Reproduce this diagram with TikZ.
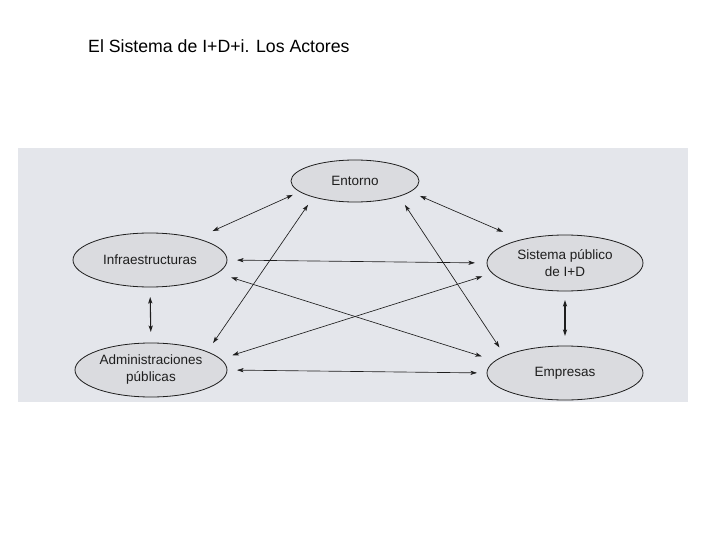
\documentclass[tikz,border=0pt]{standalone}
\usepackage{fontspec}
\setmainfont{Liberation Sans}
\usetikzlibrary{shapes.geometric,arrows.meta}
\definecolor{scanbg}{RGB}{228,230,235}
\definecolor{ellfill}{RGB}{218,219,223}
\definecolor{ink}{RGB}{30,30,30}
\begin{document}
\begin{tikzpicture}[x=1pt,y=-1pt,
  actor/.style={ellipse,draw=ink,line width=0.8pt,fill=ellfill,inner sep=0pt,outer sep=0pt,
    align=center,font=\fontsize{13.5}{17}\selectfont,text=ink},
  link/.style={draw=ink,line width=0.65pt,
    {Stealth[length=6.5pt,width=4.2pt,inset=1.5pt]}-{Stealth[length=6.5pt,width=4.2pt,inset=1.5pt]}},
  vlink/.style={link,line width=1.1pt}]
\useasboundingbox (0,0) rectangle (720,540);
\fill[scanbg] (18,148) rectangle (688,402);
\node[anchor=base west,font=\fontsize{17.7}{20}\selectfont,inner sep=0pt] (title) at (88,53) {El Sistema de I+D+i. Los Actores};
\node[actor,minimum width=128pt,minimum height=42pt] (ent) at (355,181) {Entorno};
\node[actor,minimum width=154pt,minimum height=54pt] (inf) at (150,260) {Infraestructuras};
\node[actor,minimum width=156pt,minimum height=56pt] (sis) at (565,263) {Sistema público\\de I+D};
\node[actor,minimum width=152pt,minimum height=54pt] (adm) at (151,370) {Administraciones\\públicas};
\node[actor,minimum width=156pt,minimum height=54pt] (emp) at (565,373) {Empresas};
\draw[link,shorten <=7.8pt,shorten >=17.9pt] (ent.191.1) -- (inf.25.4);
\draw[link,shorten <=9.5pt,shorten >=10.6pt] (ent.201.8) -- (adm.18.1);
\draw[link,shorten <=10.8pt,shorten >=20pt] (ent.349) -- (sis.152.8);
\draw[link,shorten <=10.5pt,shorten >=10pt] (ent.341.1) -- (emp.164.9);
\draw[link,shorten <=10pt,shorten >=12pt] (inf.east) -- (sis.west);
\draw[link,shorten <=14.5pt,shorten >=14.3pt] (inf.349.5) -- (emp.170.6);
\draw[link,shorten <=10.6pt,shorten >=12.5pt] (sis.188.6) -- (adm.9.3);
\draw[link,shorten <=10pt,shorten >=10pt] (adm.east) -- (emp.west);
\draw[vlink,shorten <=10pt,shorten >=11pt] (inf.south) -- (adm.north);
\draw[vlink,shorten <=9pt,shorten >=10pt] (sis.south) -- (emp.north);
\end{tikzpicture}
\end{document}
